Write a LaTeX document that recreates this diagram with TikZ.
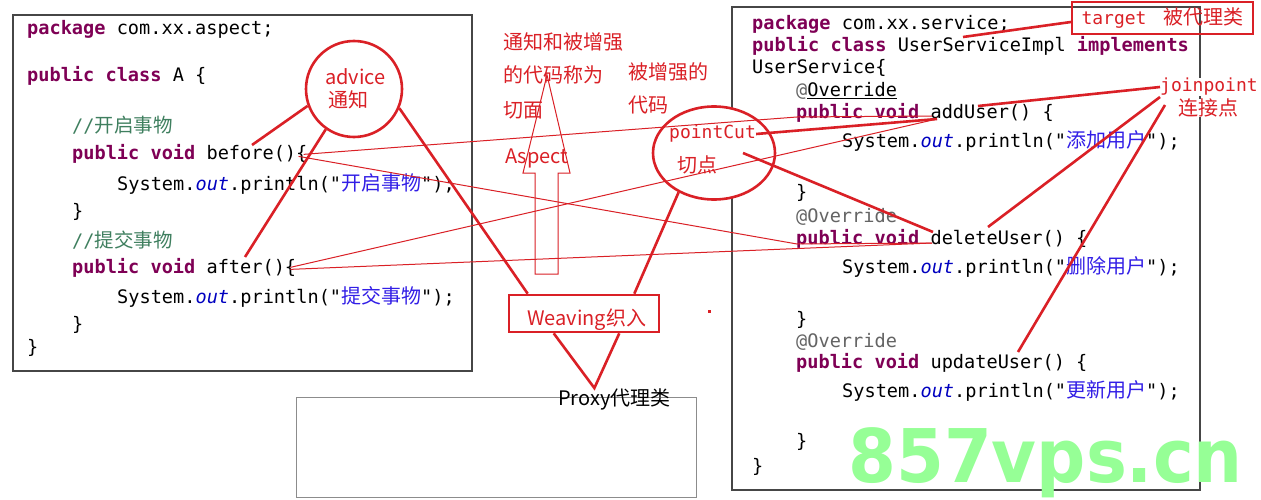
\documentclass[tikz,border=0pt]{standalone}
\usepackage{fontspec}
\setmonofont{DejaVu Sans Mono}
\newfontfamily\cjk{Noto Sans CJK SC}
\newfontfamily\wmfont{DejaVu Sans}
\usetikzlibrary{shapes.geometric}

\definecolor{kwc}{RGB}{127,0,85}
\definecolor{outc}{RGB}{0,0,192}
\definecolor{strc}{RGB}{50,30,230}
\definecolor{comc}{RGB}{63,127,95}
\definecolor{anngray}{RGB}{100,100,100}
\definecolor{annred}{RGB}{218,32,38}
\definecolor{boxgray}{RGB}{70,70,70}
\definecolor{wmgreen}{RGB}{150,255,150}

\newcommand\codefont{\fontsize{18.6}{22}\ttfamily}
\newcommand\notefont{\fontsize{20}{24}\cjk}
\newcommand\notemono{\fontsize{18}{22}\ttfamily}
\newcommand\kw[1]{\textcolor{kwc}{\bfseries #1}}
\newcommand\zh[1]{\textcolor{strc}{\fontsize{20}{22}\cjk #1}}
\newcommand\cmt[1]{\textcolor{comc}{//{\fontsize{19.5}{22}\cjk #1}}}
\newcommand\sysout[1]{System.\textcolor{outc}{\itshape out}.println("\zh{#1}");}

\tikzstyle{codeline} = [anchor=base west, inner sep=0pt, font=\codefont]
\tikzstyle{codebox} = [draw=boxgray, line width=1.2pt]
\tikzstyle{note} = [anchor=west, inner sep=0pt, text=annred, font=\notefont]
\tikzstyle{hand} = [draw=annred, line width=2.6pt]
\tikzstyle{thinline} = [draw=annred, line width=1pt]

\begin{document}
\begin{tikzpicture}[x=1pt, y=-1pt]
    \fill[white] (0,0) rectangle (1261,500);
    \useasboundingbox (0,0) rectangle (1261,500);

    % frames
    \draw[codebox] (13,15) rectangle (472,371);
    \draw[codebox] (732,7) rectangle (1200,490);
    \draw[draw=gray!90, line width=0.9pt] (296,397) rectangle (696,497);

    % class A
    \node (a-pkg) [codeline] at (27,35) {\kw{package} com.xx.aspect;};
    \node (a-cls) [codeline] at (27,82) {\kw{public} \kw{class} A \{};
    \node (a-c1) [codeline] at (72,133) {\cmt{开启事物}};
    \node (a-before) [codeline] at (72,160) {\kw{public} \kw{void} before()\{};
    \node (a-p1) [codeline] at (117,190) {\sysout{开启事物}};
    \node (a-e1) [codeline] at (72,217) {\}};
    \node (a-c2) [codeline] at (72,247) {\cmt{提交事物}};
    \node (a-after) [codeline] at (72,273) {\kw{public} \kw{void} after()\{};
    \node (a-p2) [codeline] at (117,303) {\sysout{提交事物}};
    \node (a-e2) [codeline] at (72,330) {\}};
    \node (a-end) [codeline] at (27,353) {\}};

    % UserServiceImpl
    \node (s-pkg) [codeline] at (752,30) {\kw{package} com.xx.service;};
    \node (s-cls) [codeline] at (752,52) {\kw{public} \kw{class} UserServiceImpl \kw{implements}};
    \node (s-if) [codeline] at (752,74) {UserService\{};
    \node (s-ov1) [codeline] at (796,97) {\textcolor{anngray}{@}\underline{Override}};
    \node (s-add) [codeline] at (796,119) {\kw{public} \kw{void} addUser() \{};
    \node (s-p1) [codeline] at (842,148) {\sysout{添加用户}};
    \node (s-e1) [codeline] at (796,198) {\}};
    \node (s-ov2) [codeline] at (796,222) {\textcolor{anngray}{@Override}};
    \node (s-del) [codeline] at (796,244) {\kw{public} \kw{void} deleteUser() \{};
    \node (s-p2) [codeline] at (842,273) {\sysout{删除用户}};
    \node (s-e2) [codeline] at (796,325) {\}};
    \node (s-ov3) [codeline] at (796,347) {\textcolor{anngray}{@Override}};
    \node (s-upd) [codeline] at (796,368) {\kw{public} \kw{void} updateUser() \{};
    \node (s-p3) [codeline] at (842,397) {\sysout{更新用户}};
    \node (s-e3) [codeline] at (796,447) {\}};
    \node (s-end) [codeline] at (752,472) {\}};

    \node (wm) [anchor=base west, inner sep=0pt, text=wmgreen, font=\fontsize{74}{74}\wmfont\bfseries] at (848,482) {\scalebox{0.93}[1]{857vps.cn}};

    % points in the code
    \coordinate (adv-before) at (252,145);
    \coordinate (adv-after) at (245,257);
    \coordinate (add-kw) at (797,117);
    \coordinate (add-void) at (932,116);
    \coordinate (del-kw) at (797,244);
    \coordinate (del-void) at (932,243);
    \coordinate (add-pc) at (937,119);
    \coordinate (del-pc) at (933,232);
    \coordinate (svc-pkg) at (963,37);
    \coordinate (add-jp) at (978,106);
    \coordinate (del-jp) at (988,227);
    \coordinate (upd-jp) at (1018,352);

    % advice
    \node (advice) [circle, hand, minimum size=96pt, inner sep=0pt] at (354,89) {};
    \node (adv-en) [note] at (325,77) {advice};
    \node (adv-zh) [note] at (328,100) {通知};

    % aspect
    \node (asp-l1) [note] at (503,42) {通知和被增强};
    \node (asp-l2) [note] at (503,75) {的代码称为};
    \node (asp-l3) [note] at (503,110) {切面};
    \node (enh-l1) [note] at (628,72) {被增强的};
    \node (enh-l2) [note] at (628,105) {代码};
    \draw[thinline] (547,75) -- (570,173) -- (558,173) -- (558,274)
        -- (535,274) -- (535,173) -- (523,173) -- cycle;
    \node (asp-en) [note] at (505,158) {Aspect};

    % pointcut
    \node (pointcut) [ellipse, hand, fill=white, minimum width=122pt, minimum height=93pt, inner sep=0pt] at (714,153) {};
    \node (pc-en) [note, font=\notemono] at (669,134) {pointCut};
    \node (pc-zh) [note] at (677,165) {切点};

    % weaving, proxy
    \node (weaving) [hand, minimum width=150pt, minimum height=37pt, inner sep=0pt] at (584,313.5) {};
    \node (weaving-txt) [note] at (527,320) {Weaving织入};
    \node (proxy) [note, text=black] at (558,399) {Proxy代理类};
    \fill[annred] (708,310) rectangle (711,313);

    % target, joinpoint
    \node (target) [draw=annred, line width=2.2pt, minimum width=181pt, minimum height=32pt, inner sep=0pt, text=annred, font=\notefont] at (1162.5,18) {{\notemono target}\hspace{17pt}被代理类};
    \node (jp-en) [note, font=\notemono, fill=white] at (1160,87) {joinpoint};
    \node (jp-zh) [note, fill=white] at (1178,108) {连接点};

    % thin links
    \draw[thinline] ([xshift=-4pt]a-before.east) -- (add-kw) -- (add-void);
    \draw[thinline] ([xshift=-9pt,yshift=-2pt]a-before.east) -- (del-kw) -- (del-void);
    \draw[thinline] ([xshift=-6pt]a-after.east) -- (add-pc);
    \draw[thinline] ([xshift=-6pt,yshift=-2pt]a-after.east) -- (del-void);

    % thick links
    \draw[hand] (advice.200) -- (adv-before);
    \draw[hand] (advice.235) -- (adv-after);
    \draw[hand] (advice.-23) -- ([xshift=20pt]weaving.north west);
    \draw[hand] (pc-en.east) -- (add-pc);
    \draw[hand] ([xshift=29pt]pointcut.center) -- (del-pc);
    \draw[hand] (pointcut.228) -- ([xshift=-26pt]weaving.north east);
    \draw[hand] ([xshift=46pt]weaving.south west) -- ([xshift=-20pt]proxy.north) -- ([xshift=-41pt]weaving.south east);
    \draw[hand] ([yshift=-4pt]target.west) -- (svc-pkg);
    \draw[hand] (jp-en.west) -- (add-jp);
    \draw[hand] ([yshift=-10pt]jp-en.west) -- (del-jp);
    \draw[hand] ([xshift=5pt,yshift=-18pt]jp-en.west) -- (upd-jp);
\end{tikzpicture}
\end{document}
